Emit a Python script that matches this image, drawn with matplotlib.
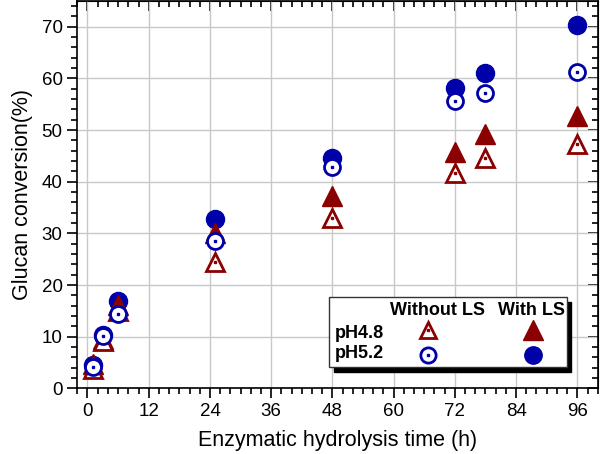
import matplotlib
matplotlib.use('Agg')
import matplotlib.pyplot as plt
from matplotlib.patches import Rectangle
from matplotlib.ticker import MultipleLocator

plt.rcParams['font.family'] = ['Liberation Sans', 'DejaVu Sans']

# hydrolysis time (h)
hours = [1, 3, 6, 25, 48, 72, 78, 96]

# glucan conversion (%)
ph48_without = [3.8, 9.2, 15.0, 24.5, 33.0, 41.8, 44.6, 47.3]
ph48_with = [4.7, 9.6, 16.2, 30.0, 37.2, 45.8, 49.3, 52.8]
ph52_without = [4.2, 10.1, 14.4, 28.6, 42.9, 55.7, 57.1, 61.2]
ph52_with = [4.5, 10.3, 17.0, 32.9, 44.7, 58.2, 61.1, 70.4]

red = '#8b0000'
blue = '#0000a8'

fig = plt.figure(figsize=(6, 4.54), dpi=100)
ax = fig.add_axes([0.1288, 0.1443, 0.8674, 0.8535])

ax.plot(hours, ph52_with, 'o', ms=13, color=blue, mec=blue, zorder=3)
ax.plot(hours, ph48_with, '^', ms=14, color=red, mec=red, zorder=4)
ax.plot(hours, ph48_without, '^', ms=13.5, mfc='white', mec=red, mew=2, zorder=5)
ax.plot(hours, ph48_without, 's', ms=2, color=red, mec=red, zorder=5)
ax.plot(hours, ph52_without, 'o', ms=11.5, mfc='white', mec=blue, mew=2, zorder=6)
ax.plot(hours, ph52_without, 's', ms=2, color=blue, mec=blue, zorder=6)

ax.set_xlim(-2, 100)
ax.set_ylim(0, 75)
ax.xaxis.set_major_locator(MultipleLocator(12))
ax.xaxis.set_minor_locator(MultipleLocator(2))
ax.yaxis.set_major_locator(MultipleLocator(10))
ax.yaxis.set_minor_locator(MultipleLocator(2))
ax.grid(True, which='major', color='#c8c8c8', lw=1)
ax.set_axisbelow(True)

ax.tick_params(which='both', direction='out', top=False, right=False,
               labelsize=13.5, width=1.2, color='black')
ax.tick_params(which='major', length=7)
ax.tick_params(which='minor', length=4)
for s in ax.spines.values():
    s.set_linewidth(1.2)

# inward ticks on top and right
ax2 = ax.secondary_xaxis('top')
ax2.xaxis.set_major_locator(MultipleLocator(12))
ax2.xaxis.set_minor_locator(MultipleLocator(2))
ax2.tick_params(which='both', direction='in', labeltop=False, width=1.2)
ax2.tick_params(which='major', length=7)
ax2.tick_params(which='minor', length=4)
ay2 = ax.secondary_yaxis('right')
ay2.yaxis.set_major_locator(MultipleLocator(10))
ay2.yaxis.set_minor_locator(MultipleLocator(2))
ay2.tick_params(which='both', direction='in', labelright=False, width=1.2)
ay2.tick_params(which='major', length=7)
ay2.tick_params(which='minor', length=4)

ax.set_xlabel('Enzymatic hydrolysis time (h)', fontsize=15.5, labelpad=7)
ax.set_ylabel('Glucan conversion(%)', fontsize=15.5, labelpad=6)

# custom legend box with shadow
x0, y0, w, h = 0.4843, 0.0563, 0.4561, 0.1806
ax.add_patch(Rectangle((x0 + 0.0086, y0 - 0.0129), w, h, transform=ax.transAxes,
                       facecolor='black', edgecolor='black', zorder=8))
ax.add_patch(Rectangle((x0, y0), w, h, transform=ax.transAxes,
                       facecolor='white', edgecolor='#333333', lw=1, zorder=9))
ax.text(0.693, 0.2008, 'Without LS', transform=ax.transAxes, ha='center', va='center',
        fontsize=13, fontweight='bold', zorder=10)
ax.text(0.8726, 0.2008, 'With LS', transform=ax.transAxes, ha='center', va='center',
        fontsize=13, fontweight='bold', zorder=10)
ax.text(0.4952, 0.1425, 'pH4.8', transform=ax.transAxes, ha='left', va='center',
        fontsize=13, fontweight='bold', zorder=10)
ax.text(0.4952, 0.0908, 'pH5.2', transform=ax.transAxes, ha='left', va='center',
        fontsize=13, fontweight='bold', zorder=10)
ax.plot([0.6745], [0.1497], '^', ms=12, mfc='white', mec=red, mew=2,
        transform=ax.transAxes, zorder=10, clip_on=False)
ax.plot([0.6745], [0.1497], 's', ms=2, color=red, transform=ax.transAxes, zorder=10)
ax.plot([0.8757], [0.1497], '^', ms=14, color=red, transform=ax.transAxes, zorder=10)
ax.plot([0.6745], [0.0865], 'o', ms=11, mfc='white', mec=blue, mew=2,
        transform=ax.transAxes, zorder=10)
ax.plot([0.6745], [0.0865], 's', ms=2, color=blue, transform=ax.transAxes, zorder=10)
ax.plot([0.8757], [0.0865], 'o', ms=12.5, color=blue, transform=ax.transAxes, zorder=10)

fig.savefig('out.png', dpi=100)
